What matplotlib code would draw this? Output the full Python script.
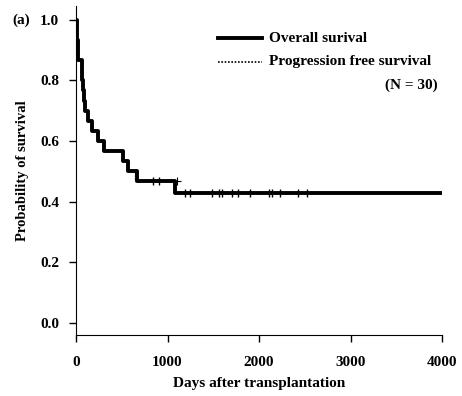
import matplotlib
import matplotlib.pyplot as plt
import numpy as np

matplotlib.use("Agg")
plt.rcParams["font.family"] = ["Liberation Serif", "DejaVu Serif"]
plt.rcParams["font.weight"] = "bold"

# Overall survival (Kaplan-Meier steps)
os_days = [0, 8, 12, 18, 25, 62, 70, 80, 90, 100, 130, 175, 240, 310, 515, 568, 667, 1080, 4000]
os_prob = [1.0, 0.967, 0.933, 0.90, 0.867, 0.833, 0.80, 0.767, 0.733, 0.70, 0.667,
           0.633, 0.60, 0.567, 0.533, 0.50, 0.467, 0.428, 0.428]
os_cens_days = [838, 910, 1191, 1246, 1483, 1566, 1599, 1701, 1767, 1902, 2113, 2139, 2230, 2430, 2521]

# Progression free survival
pfs_days = [0, 8, 12, 18, 25, 55, 68, 78, 88, 95, 125, 170, 235, 300, 500, 560, 650, 1080, 4000]
pfs_prob = [1.0, 0.967, 0.933, 0.90, 0.867, 0.833, 0.80, 0.767, 0.733, 0.70, 0.667,
            0.633, 0.60, 0.567, 0.533, 0.50, 0.467, 0.428, 0.428]
pfs_cens_days = [1107]

x_ticks = [0, 1000, 2000, 3000, 4000]
y_ticks = [0.0, 0.2, 0.4, 0.6, 0.8, 1.0]


def step_value(days, probs, t):
    idx = np.searchsorted(days, t, side="right") - 1
    return probs[idx]


fig = plt.figure(figsize=(4.62, 3.96), dpi=100)
ax = fig.add_axes([0.1645, 0.154, 0.7925, 0.831])

ax.step(pfs_days, pfs_prob, where="post", color="black", lw=1.0, ls=(0, (1, 1.2)))
ax.plot(pfs_cens_days, [step_value(os_days, os_prob, t) + 0.04 for t in pfs_cens_days],
        ls="none", marker="+", ms=6, mew=0.8, color="black")
ax.step(os_days, os_prob, where="post", color="black", lw=2.8)
ax.plot(os_cens_days, [step_value(os_days, os_prob, t) for t in os_cens_days],
        ls="none", marker="|", ms=6, mew=1.0, color="black")

ax.set_xlim(0, 4000)
ax.set_ylim(-0.04, 1.046)
ax.set_xticks(x_ticks)
ax.set_yticks(y_ticks)
ax.set_yticklabels([f"{v:.1f}" for v in y_ticks])
ax.tick_params(labelsize=11, length=5, width=1, direction="out")
ax.tick_params(axis="x", pad=10)
ax.tick_params(axis="y", pad=7)
for lab in ax.get_xticklabels() + ax.get_yticklabels():
    lab.set_fontweight("bold")
ax.spines["top"].set_visible(False)
ax.spines["right"].set_visible(False)

ax.set_xlabel("Days after transplantation", fontsize=11, fontweight="bold", labelpad=6)
ax.set_ylabel("Probability of survival", fontsize=10.5, fontweight="bold", labelpad=8)

# legend drawn by hand, as in the figure
ax.plot([1550, 2030], [0.94, 0.94], color="black", lw=2.8)
ax.text(2110, 0.94, "Overall surival", fontsize=11, fontweight="bold", va="center")
ax.plot([1550, 2030], [0.861, 0.861], color="black", lw=1.2, ls=(0, (1, 1)))
ax.text(2110, 0.861, "Progression free survival", fontsize=11, fontweight="bold", va="center")
ax.text(3380, 0.785, "(N = 30)", fontsize=11, fontweight="bold", va="center")

fig.text(0.026, 0.948, "(a)", fontsize=11, fontweight="bold", va="center")

fig.savefig("out.png", dpi=100, facecolor="white")
